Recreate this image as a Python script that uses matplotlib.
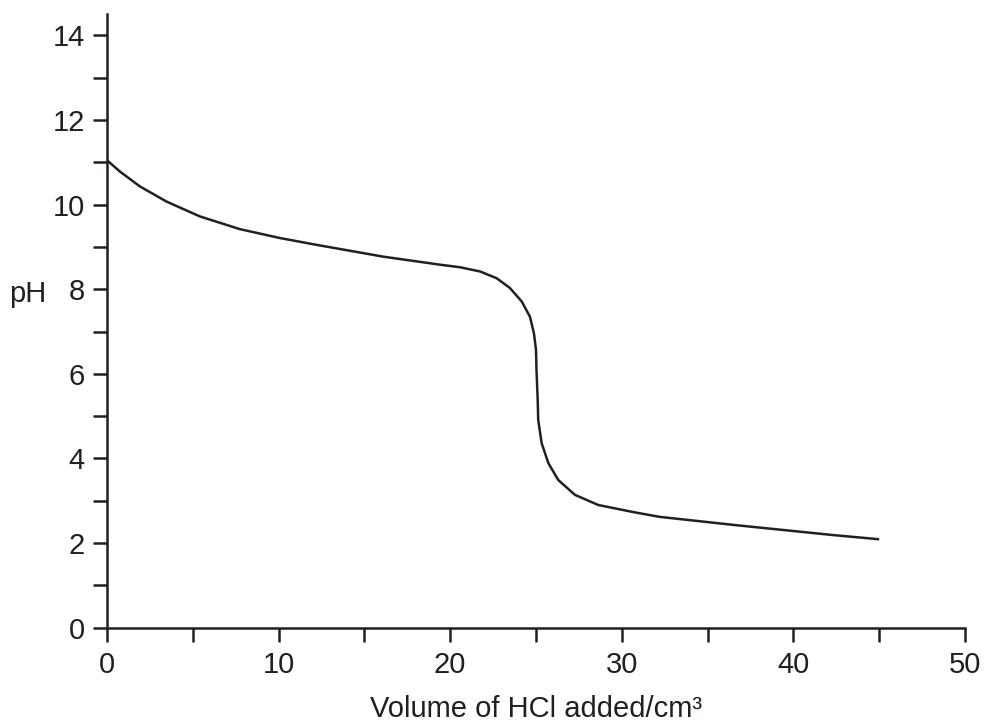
import matplotlib
matplotlib.use("Agg")
import matplotlib.pyplot as plt

# titration curve (volume of HCl in cm3, pH)
volume = [0.0, 0.76, 1.92, 3.48, 5.42, 7.75, 10.08, 12.2, 16.1, 19.41, 20.57,
          21.74, 22.71, 23.48, 24.17, 24.65, 24.88, 25.0, 25.03, 25.1, 25.13,
          25.33, 25.72, 26.3, 27.27, 28.63, 30.58, 32.2, 36.5, 42.3, 45.0]
ph = [11.05, 10.78, 10.43, 10.07, 9.72, 9.42, 9.21, 9.05, 8.77, 8.58, 8.52,
      8.42, 8.26, 8.03, 7.71, 7.35, 6.96, 6.57, 6.09, 5.38, 4.91,
      4.36, 3.89, 3.49, 3.14, 2.90, 2.74, 2.62, 2.43, 2.19, 2.09]

x_major = [0, 10, 20, 30, 40, 50]
x_minor = [5, 15, 25, 35, 45]
y_major = [0, 2, 4, 6, 8, 10, 12, 14]
y_minor = [1, 3, 5, 7, 9, 11, 13]

INK = "#231f20"
plt.rcParams["font.family"] = ["Liberation Sans", "DejaVu Sans"]

fig = plt.figure(figsize=(9.84, 7.26), dpi=100)
ax = fig.add_axes([0.1087, 0.1354, 0.872, 0.845])
ax.plot(volume, ph, color=INK, linewidth=1.8, solid_capstyle="butt",
        solid_joinstyle="round")

ax.set_xlim(0, 50)
ax.set_ylim(0, 14.5)
ax.set_xticks(x_major)
ax.set_xticks(x_minor, minor=True)
ax.set_yticks(y_major)
ax.set_yticks(y_minor, minor=True)
for s in ("top", "right"):
    ax.spines[s].set_visible(False)
for s in ("left", "bottom"):
    ax.spines[s].set_linewidth(1.8)
    ax.spines[s].set_color(INK)
ax.tick_params(which="both", direction="out", length=10, width=1.8, color=INK,
               labelsize=21, labelcolor=INK)
ax.tick_params(axis="x", which="both", pad=7)
ax.tick_params(axis="y", which="both", pad=6)

ax.set_xlabel("Volume of HCl added/cm³", fontsize=21, color=INK, labelpad=11)
fig.text(0.009, 1 - 294 / 726, "pH", fontsize=21, color=INK, va="center", ha="left")

fig.savefig("out.png", dpi=100)
